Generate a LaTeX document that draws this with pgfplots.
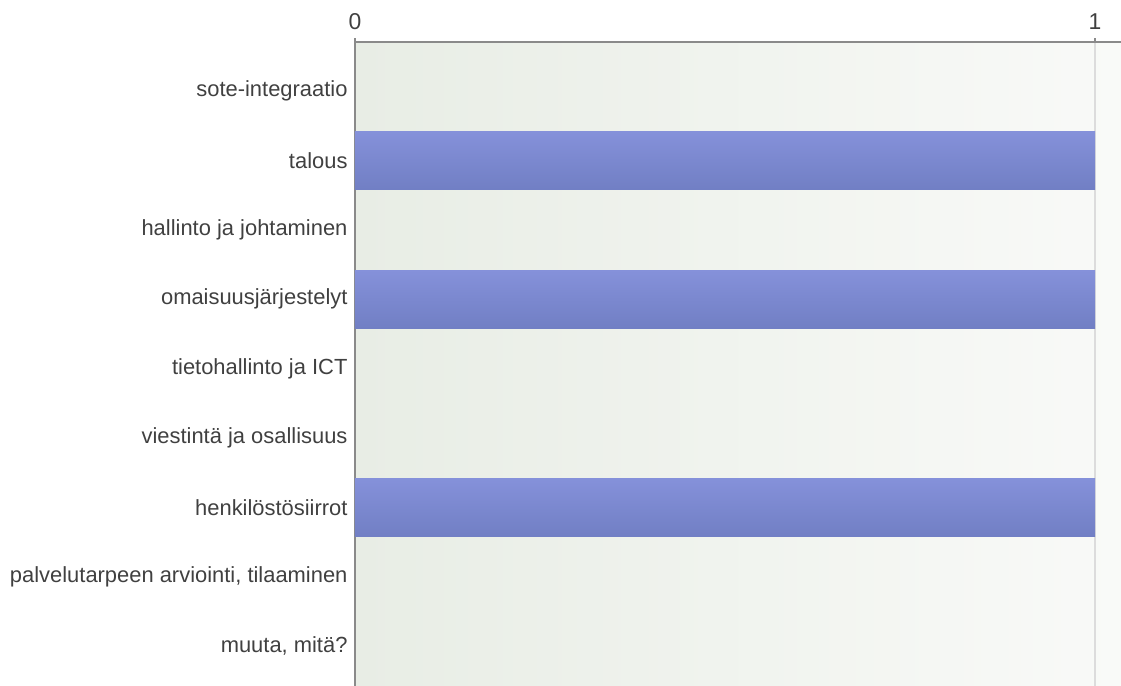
\documentclass[border=0pt]{standalone}
\usepackage{fontspec}
\setmainfont{Liberation Sans}
\usepackage{pgfplots}
\pgfplotsset{compat=1.18}
\definecolor{txt}{HTML}{404040}
\definecolor{axisgray}{HTML}{8A8A8A}
\definecolor{bgleft}{HTML}{E8EDE5}
\definecolor{bgright}{HTML}{F9FAF8}
\definecolor{bartop}{HTML}{8591DA}
\definecolor{barbot}{HTML}{717FC4}
\definecolor{gridc}{HTML}{DCDCDC}
\pgfplotsset{mybar/.style={xbar, bar width=58bp, bar shift=0pt, draw=none,
  top color=bartop, bottom color=barbot, forget plot}}
\begin{document}
\begin{tikzpicture}
\path[use as bounding box] (-355bp,0) rectangle (766bp,686bp);
\begin{axis}[
  at={(0,0)}, anchor=south west,
  scale only axis,
  width=766bp, height=644bp,
  xmin=0, xmax=1.0351,
  ymin=-0.706, ymax=8.573,
  y dir=reverse,
  axis x line*=top,
  axis y line*=left,
  axis line style={axisgray, line width=1.6bp, -},
  axis background/.style={left color=bgleft, right color=bgright},
  xtick={0,1},
  xticklabels={0,1},
  xmajorgrids,
  major grid style={gridc, line width=1.2bp},
  tick align=outside,
  major tick length=4bp,
  xtick style={axisgray, line width=1.6bp},
  ytick={0,...,8},
  yticklabels={sote-integraatio,talous,hallinto ja johtaminen,omaisuusjärjestelyt,tietohallinto ja ICT,viestintä ja osallisuus,henkilöstösiirrot,{palvelutarpeen arviointi, tilaaminen},{muuta, mitä?}},
  ytick style={draw=none},
  /pgf/number format/assume math mode=true,
  xticklabel style={font=\fontsize{23}{27}\selectfont, text=txt, yshift=5bp},
  yticklabel style={font=\fontsize{22}{26}\selectfont, text=txt},
  clip=false,
]
% values per category (0 = sote-integraatio ... 8 = muuta, mitä?)
\addplot[mybar] coordinates {(1,1)};
\addplot[mybar] coordinates {(1,3)};
\addplot[mybar] coordinates {(1,6)};
\end{axis}
\end{tikzpicture}
\end{document}
